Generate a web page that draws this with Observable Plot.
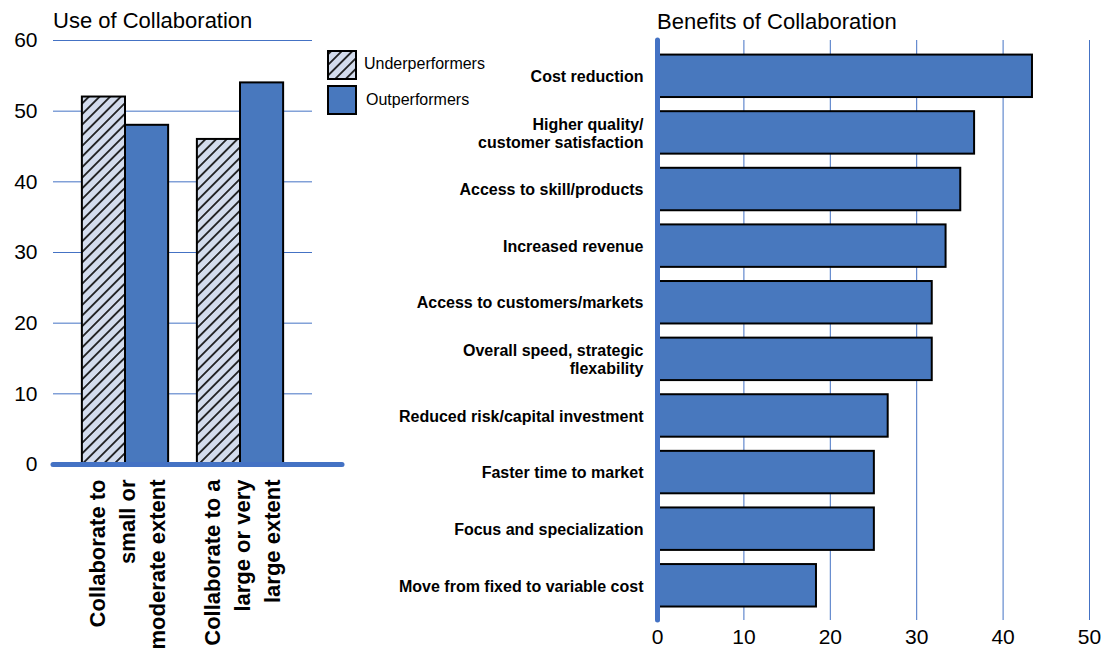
<!DOCTYPE html>
<html>
<head>
<meta charset="utf-8">
<script src="https://cdn.jsdelivr.net/npm/d3@7"></script>
<script src="https://cdn.jsdelivr.net/npm/@observablehq/plot@0.6"></script>
<style>
  body { margin: 0; background: #fff; font-family: "Liberation Sans", Arial, sans-serif; }
  #root { position: relative; width: 1107px; height: 649px; overflow: hidden; }
  .title { position: absolute; font-size: 22px; line-height: 22px; color: #000; white-space: nowrap; }
  .legend { position: absolute; font-size: 16px; color: #000; }
  .chart { position: absolute; top: 0; }
</style>
</head>
<body>
<svg width="0" height="0" style="position:absolute">
  <defs>
    <pattern id="hatch" patternUnits="userSpaceOnUse" width="7.5" height="7.5" patternTransform="rotate(45)">
      <rect width="7.5" height="7.5" fill="#d3dced"></rect>
      <line x1="3.75" y1="0" x2="3.75" y2="7.5" stroke="#111" stroke-width="1.7"></line>
    </pattern>
  </defs>
</svg>
<div id="root">
  <div class="title" style="left:53px;top:10px">Use of Collaboration</div>
  <div class="title" style="left:657px;top:11px">Benefits of Collaboration</div>
  <div class="legend" style="left:327px;top:50px">
    <div style="position:absolute;left:0;top:0;width:30px;height:30px">
      <svg width="30" height="30"><rect x="1" y="1" width="28" height="28" fill="url(#hatch)" stroke="#000" stroke-width="2"></rect></svg>
    </div>
    <div style="position:absolute;left:37px;top:5px;white-space:nowrap">Underperformers</div>
    <div style="position:absolute;left:0;top:35px;width:30px;height:30px">
      <svg width="30" height="30"><rect x="1" y="1" width="28" height="28" fill="#4878be" stroke="#000" stroke-width="2"></rect></svg>
    </div>
    <div style="position:absolute;left:39px;top:41px;white-space:nowrap">Outperformers</div>
  </div>
  <div id="left" class="chart" style="left:0"></div>
  <div id="right" class="chart" style="left:350px"></div>
</div>
<script>
// ---- Data: Use of Collaboration ----
const groups = ["Collaborate to\nsmall or\nmoderate extent", "Collaborate to a\nlarge or very\nlarge extent"];
const underperformers = [52, 46];
const outperformers = [48, 54];
const useTicks = [0, 10, 20, 30, 40, 50, 60];

// ---- Data: Benefits of Collaboration ----
const benefits = [
  "Cost reduction",
  "Higher quality/\ncustomer satisfaction",
  "Access to skill/products",
  "Increased revenue",
  "Access to customers/markets",
  "Overall speed, strategic\nflexability",
  "Reduced risk/capital investment",
  "Faster time to market",
  "Focus and specialization",
  "Move from fixed to variable cost"
];
const benefitValues = [43.4, 36.7, 35.1, 33.4, 31.8, 31.8, 26.7, 25.1, 25.1, 18.4];
const benefitTicks = [0, 10, 20, 30, 40, 50];

const BLUE = "#4878be";
const GRID = "#4472c4";

const underData = groups.map((g, i) => ({group: g, value: underperformers[i]}));
const outData = groups.map((g, i) => ({group: g, value: outperformers[i]}));
const benefitData = benefits.map((b, i) => ({label: b, value: benefitValues[i]}));

// left chart
const xRange = [67.5, 297.5];
const step = (xRange[1] - xRange[0]) / groups.length;
const bw = step * 0.75;
const left = Plot.plot({
  width: 345, height: 649,
  marginLeft: 53, marginRight: 3, marginTop: 40, marginBottom: 185,
  style: {color: "#000", background: "transparent", fontFamily: "Liberation Sans, Arial, sans-serif"},
  x: {domain: groups, range: xRange, paddingInner: 0.25, paddingOuter: 0.125, round: false, axis: null},
  y: {domain: [0, 60], axis: null},
  marks: [
    Plot.ruleY(useTicks.filter(d => d > 0), {stroke: GRID, strokeWidth: 1, insetRight: 30}),
    Plot.axisY(useTicks, {tickSize: 0, tickPadding: 16, fontSize: 21, fill: "#000", label: null}),
    Plot.barY(underData, {x: "group", y: "value", fill: "url(#hatch)", stroke: "#000", strokeWidth: 2, insetRight: bw / 2}),
    Plot.barY(outData, {x: "group", y: "value", fill: BLUE, stroke: "#000", strokeWidth: 2, insetLeft: bw / 2}),
    Plot.ruleY([0], {stroke: GRID, strokeWidth: 5, strokeLinecap: "round"}),
    Plot.text(groups, {x: d => d, frameAnchor: "bottom", dy: 15, rotate: -90, textAnchor: "end",
      lineAnchor: "middle", lineHeight: 1.36, fontSize: 22, fontWeight: "bold", fill: "#000"})
  ]
});
document.getElementById("left").appendChild(left);

// right chart
const right = Plot.plot({
  width: 757, height: 649,
  marginLeft: 307, marginRight: 18, marginTop: 40, marginBottom: 29,
  style: {color: "#000", background: "transparent", fontFamily: "Liberation Sans, Arial, sans-serif"},
  x: {domain: [0, 50], axis: null},
  y: {domain: benefits, range: [47.5, 613.6], paddingInner: 0.25, paddingOuter: 0.125, round: false, axis: null},
  marks: [
    Plot.ruleX(benefitTicks.filter(d => d > 0), {stroke: GRID, strokeWidth: 1}),
    Plot.barX(benefitData, {x: "value", y: "label", fill: BLUE, stroke: "#000", strokeWidth: 2}),
    Plot.ruleX([0], {stroke: GRID, strokeWidth: 5, strokeLinecap: "round"}),
    Plot.axisX(benefitTicks, {tickSize: 0, tickPadding: 9, fontSize: 21, fill: "#000", label: null}),
    Plot.axisY(benefits, {tickSize: 0, tickPadding: 14, fontSize: 16, fontWeight: "bold", lineHeight: 1.12, fill: "#000", label: null})
  ]
});
document.getElementById("right").appendChild(right);
</script>
</body>
</html>
